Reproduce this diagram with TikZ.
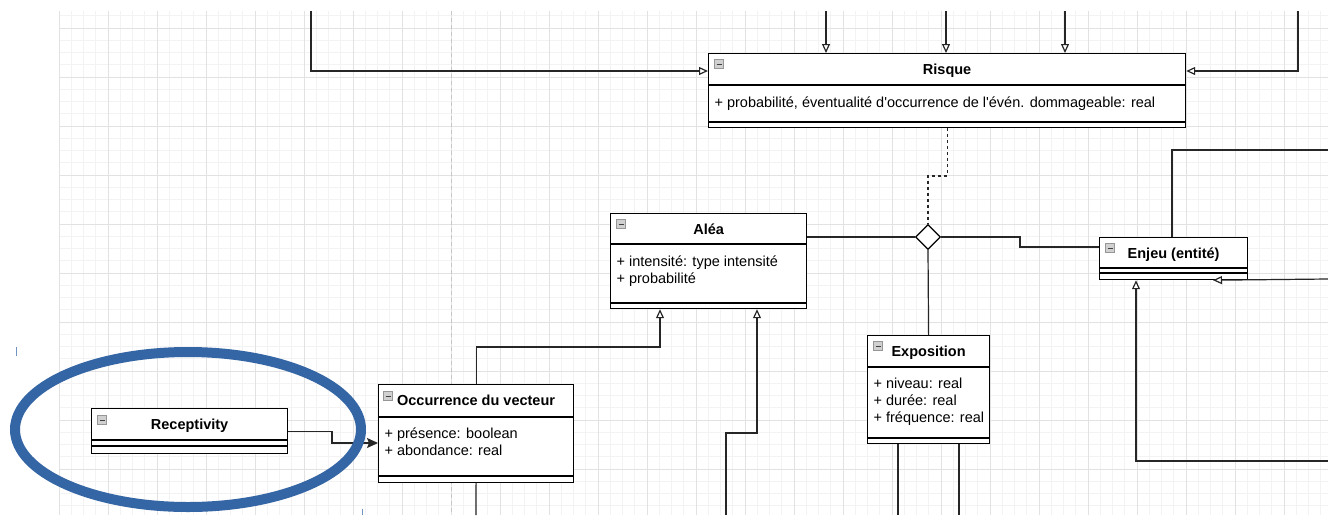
\documentclass[tikz,border=0pt]{standalone}
\usepackage{fontspec}
\setmainfont{Liberation Sans}
\usetikzlibrary{arrows.meta,shapes.geometric}
\definecolor{gridmajor}{RGB}{226,226,226}
\definecolor{gridminor}{RGB}{243,243,243}
\definecolor{ringblue}{RGB}{52,101,164}
\definecolor{foldgray}{RGB}{150,150,150}

\begin{document}
\begin{tikzpicture}[x=1pt,y=-1pt,line width=1.2pt]
  \tikzstyle{umlclass}=[draw, fill=white, anchor=north west, inner sep=0pt]
  \tikzstyle{classname}=[anchor=base, inner sep=0pt, font=\fontsize{14.5}{17}\selectfont\bfseries]
  \tikzstyle{attr}=[anchor=base west, inner sep=0pt, font=\fontsize{14.5}{17}\selectfont]
  \tikzstyle{fold}=[draw=foldgray, fill=foldgray!45, minimum size=9pt, inner sep=0pt, line width=0.6pt,
    path picture={\draw[black!75, line width=1pt] ([xshift=2pt]path picture bounding box.west) -- ([xshift=-2pt]path picture bounding box.east);}]
  \tikzstyle{inherit}=[black!85, -{Triangle[length=9pt,width=8pt,fill=white]}]
  \tikzstyle{assoc}=[black!85, -{Stealth[length=11pt,width=10pt,inset=2pt]}]
  \tikzstyle{link}=[black!85]

  % background and grid
  \fill[white] (0,0) rectangle (1328,515);
  \useasboundingbox (0,0) rectangle (1328,515);
  \foreach \gx in {59,71.25,...,1328} \draw[gridminor, line width=0.8pt] (\gx,11) -- (\gx,515);
  \foreach \gy in {15.75,28,...,515} \draw[gridminor, line width=0.8pt] (59,\gy) -- (1328,\gy);
  \foreach \gx in {59,108,...,1328} \draw[gridmajor, line width=0.8pt] (\gx,11) -- (\gx,515);
  \foreach \gy in {28,77,...,515} \draw[gridmajor, line width=0.8pt] (59,\gy) -- (1328,\gy);
  \draw[gray!45, dash pattern=on 4pt off 3pt, line width=0.8pt] (451,11) -- (451,515);

  % classes
  \node[umlclass, minimum width=477pt, minimum height=74pt] (risque) at (708,53) {};
  \draw (risque.north west) ++(0,32) -- ++(477,0);
  \draw (risque.north west) ++(0,69) -- ++(477,0);
  \node[fold] (risque-fold) at ([shift={(11,11)}]risque.north west) {};
  \node[classname] (risque-name) at ([shift={(0,21)}]risque.north) {Risque};
  \node[attr] (risque-a1) at ([shift={(6,54)}]risque.north west) {+ probabilité, éventualité d\textquotesingle occurrence de l\textquotesingle évén. dommageable: real};

  \node[umlclass, minimum width=196pt, minimum height=95pt] (alea) at (610,213) {};
  \draw (alea.north west) ++(0,31) -- ++(196,0);
  \draw (alea.north west) ++(0,90) -- ++(196,0);
  \node[fold] (alea-fold) at ([shift={(11,11)}]alea.north west) {};
  \node[classname] (alea-name) at ([shift={(0,21)}]alea.north) {Aléa};
  \node[attr] (alea-a1) at ([shift={(6,53)}]alea.north west) {+ intensité: type intensité};
  \node[attr] (alea-a2) at ([shift={(6,70)}]alea.north west) {+ probabilité};

  \node[umlclass, minimum width=148pt, minimum height=42pt] (enjeu) at (1099,237) {};
  \draw (enjeu.north west) ++(0,31) -- ++(148,0);
  \draw (enjeu.north west) ++(0,36) -- ++(148,0);
  \node[fold] (enjeu-fold) at ([shift={(11,11)}]enjeu.north west) {};
  \node[classname] (enjeu-name) at ([shift={(0,21)}]enjeu.north) {Enjeu (entité)};

  \node[umlclass, minimum width=122pt, minimum height=108pt] (expo) at (867,335) {};
  \draw (expo.north west) ++(0,32) -- ++(122,0);
  \draw (expo.north west) ++(0,103) -- ++(122,0);
  \node[fold] (expo-fold) at ([shift={(11,11)}]expo.north west) {};
  \node[classname] (expo-name) at ([shift={(0,21)}]expo.north) {Exposition};
  \node[attr] (expo-a1) at ([shift={(6,53)}]expo.north west) {+ niveau: real};
  \node[attr] (expo-a2) at ([shift={(6,70)}]expo.north west) {+ durée: real};
  \node[attr] (expo-a3) at ([shift={(6,87)}]expo.north west) {+ fréquence: real};

  \node[umlclass, minimum width=195pt, minimum height=98pt] (occ) at (378,384) {};
  \draw (occ.north west) ++(0,33) -- ++(195,0);
  \draw (occ.north west) ++(0,92) -- ++(195,0);
  \node[fold] (occ-fold) at ([shift={(10,12)}]occ.north west) {};
  \node[classname] (occ-name) at ([shift={(0,21)}]occ.north) {Occurrence du vecteur};
  \node[attr] (occ-a1) at ([shift={(6,54)}]occ.north west) {+ présence: boolean};
  \node[attr] (occ-a2) at ([shift={(6,71)}]occ.north west) {+ abondance: real};

  \node[umlclass, minimum width=196pt, minimum height=45pt] (recep) at (91,408) {};
  \draw (recep.north west) ++(0,32) -- ++(196,0);
  \draw (recep.north west) ++(0,38) -- ++(196,0);
  \node[fold] (recep-fold) at ([shift={(11,12)}]recep.north west) {};
  \node[classname] (recep-name) at ([shift={(0,21)}]recep.north) {Receptivity};

  \node[diamond, draw, fill=white, minimum size=25pt, inner sep=0pt] (agg) at (928,237) {};

  % free ends at the borders
  \coordinate (top1) at (311,11);
  \coordinate (top2) at (826,11);
  \coordinate (top3) at (946,11);
  \coordinate (top4) at (1065,11);
  \coordinate (top5) at (1298,11);
  \coordinate (right1) at (1328,150);
  \coordinate (right2) at (1328,279);
  \coordinate (right3) at (1328,461);
  \coordinate (bot1) at (476,515);
  \coordinate (bot2) at (726,515);
  \coordinate (bot3) at (898,515);
  \coordinate (bot4) at (959,515);

  % connectors
  \draw[inherit] (top1) |- (risque.north west |- 0,71);
  \draw[inherit] (top2) -- (top2 |- risque.north);
  \draw[inherit] (top3) -- (top3 |- risque.north);
  \draw[inherit] (top4) -- (top4 |- risque.north);
  \draw[inherit] (top5) |- (risque.north east |- 0,71);
  \draw[link, dash pattern=on 3pt off 3pt] (risque.south) -- (risque.south |- 0,176) -| (agg.north);
  \draw[link] (alea.east |- agg.west) -- (agg.west);
  \draw[link] (agg.east) -| (1020,247) -- (enjeu.west |- 0,247);
  \draw[link] (agg.south) -- (expo.north);
  \draw[inherit] (occ.north) |- (660,347) -- (alea.south -| 660,0);
  \draw[inherit] (bot2) |- (757,433) -- (alea.south -| 757,0);
  \draw[link] (occ.south) -- (bot1);
  \draw[link] (expo.south -| bot3) -- (bot3);
  \draw[link] (expo.south -| bot4) -- (bot4);
  \draw[link] (enjeu.north -| 1172,0) |- (right1);
  \draw[inherit] (right2) -- (enjeu.south -| 1213,0);
  \draw[inherit] (right3) -| (enjeu.south -| 1136,0);
  \draw[assoc] (recep.east) -| (332,443) -- (occ.west |- 0,443);

  % highlight
  \draw[ringblue, line width=10pt] (188,429.5) ellipse [x radius=173pt, y radius=77.5pt];
  \draw[ringblue!70, line width=1pt] (16,347) -- (16,356);
  \draw[ringblue!70, line width=1pt] (362,509) -- (362,515);
\end{tikzpicture}
\end{document}
